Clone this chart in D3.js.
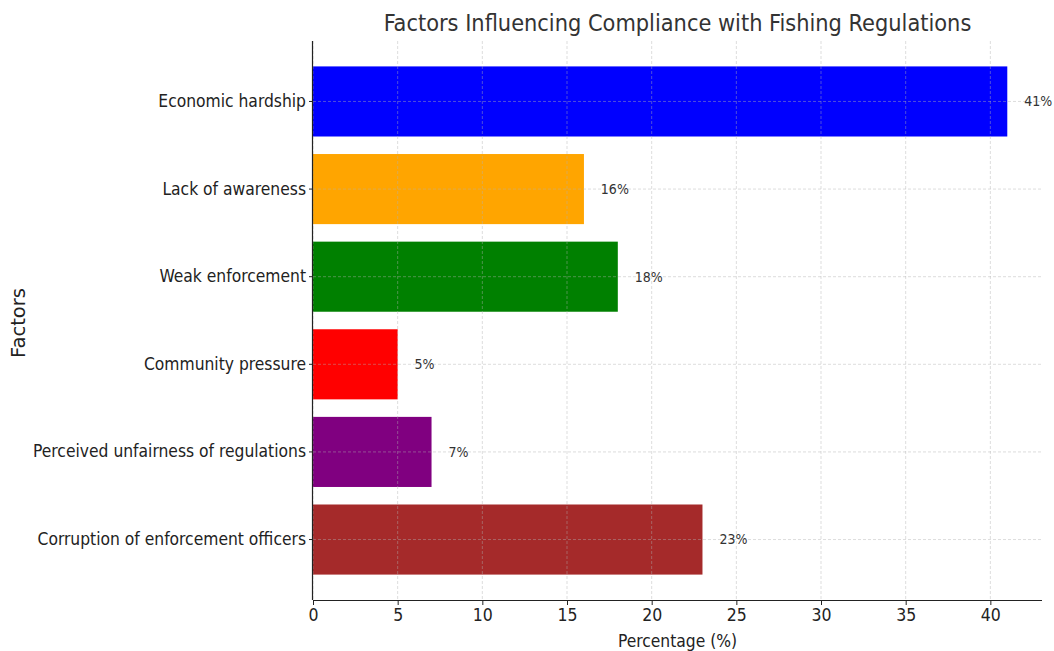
<!DOCTYPE html>
<html>
<head>
<meta charset="utf-8">
<script src="https://cdn.jsdelivr.net/npm/d3@7"></script>
<style>
  html, body { margin: 0; padding: 0; background: #fff; }
  svg { display: block; }
  text { font-family: "DejaVu Sans Condensed", "DejaVu Sans", sans-serif; }
</style>
</head>
<body>
<svg id="chart" width="1054" height="651"></svg>
<script>
// Survey results: share of respondents citing each factor
const factors = [
  "Economic hardship",
  "Lack of awareness",
  "Weak enforcement",
  "Community pressure",
  "Perceived unfairness of regulations",
  "Corruption of enforcement officers"
];
const percentages = [41, 16, 18, 5, 7, 23];
const barColors = ["#0000ff", "#ffa500", "#008000", "#ff0000", "#800080", "#a52a2a"];
const xTicks = [0, 5, 10, 15, 20, 25, 30, 35, 40];

const svg = d3.select("#chart");
const plot = { left: 313, right: 1042, top: 41, bottom: 600 };

// x domain padded 5% past the longest bar
const xMax = d3.max(percentages) * 1.05;
const x = d3.scaleLinear().domain([0, xMax]).range([plot.left, plot.right]);

// band layout: bars fill 80% of each slot, with outer padding
const y = d3.scaleBand()
  .domain(factors)
  .range([plot.top, plot.bottom])
  .paddingInner(0.2)
  .paddingOuter(0.29);

const rows = factors.map((f, i) => ({ factor: f, value: percentages[i], color: barColors[i] }));

// bars
svg.append("g").selectAll("rect")
  .data(rows)
  .join("rect")
  .attr("x", x(0))
  .attr("y", d => y(d.factor))
  .attr("width", d => x(d.value) - x(0))
  .attr("height", y.bandwidth())
  .attr("fill", d => d.color);

// dashed grid, drawn translucent over the bars
const grid = svg.append("g")
  .attr("stroke", "#b0b0b0")
  .attr("stroke-opacity", 0.55)
  .attr("stroke-width", 0.8)
  .attr("stroke-dasharray", "3,2");
grid.selectAll("line.vx")
  .data(xTicks)
  .join("line")
  .attr("class", "vx")
  .attr("x1", d => x(d)).attr("x2", d => x(d))
  .attr("y1", plot.top).attr("y2", plot.bottom);
grid.selectAll("line.hy")
  .data(factors)
  .join("line")
  .attr("class", "hy")
  .attr("x1", plot.left).attr("x2", plot.right)
  .attr("y1", d => y(d) + y.bandwidth() / 2)
  .attr("y2", d => y(d) + y.bandwidth() / 2);

// value labels just past each bar end
svg.append("g").selectAll("text")
  .data(rows)
  .join("text")
  .attr("x", d => x(d.value + 1))
  .attr("y", d => y(d.factor) + y.bandwidth() / 2)
  .attr("dy", "0.35em")
  .attr("font-size", 14)
  .attr("fill", "#333")
  .text(d => d.value + "%");

// axes
const xAxis = svg.append("g")
  .attr("transform", `translate(0,${plot.bottom})`)
  .call(d3.axisBottom(x).tickValues(xTicks).tickSize(5).tickPadding(4).tickFormat(d3.format("d")));
xAxis.select(".domain").attr("stroke", "#222").attr("stroke-width", 1.2)
  .attr("d", `M${plot.left},0.5H${plot.right}`);
xAxis.selectAll(".tick line").attr("stroke", "#222");
xAxis.selectAll(".tick text").attr("font-size", 17.5).attr("fill", "#222")
  .style("font-family", "'DejaVu Sans Condensed', 'DejaVu Sans', sans-serif");

const yAxis = svg.append("g")
  .attr("transform", `translate(${plot.left},0)`)
  .call(d3.axisLeft(y).tickSize(4).tickPadding(3));
yAxis.select(".domain").attr("stroke", "#222").attr("stroke-width", 1.2)
  .attr("d", `M-0.5,${plot.top}V${plot.bottom}`);
yAxis.selectAll(".tick line").attr("stroke", "#222");
yAxis.selectAll(".tick text").attr("font-size", 17.3).attr("fill", "#222")
  .style("font-family", "'DejaVu Sans Condensed', 'DejaVu Sans', sans-serif");

// titles
svg.append("text")
  .attr("x", (plot.left + plot.right) / 2)
  .attr("y", 31)
  .attr("text-anchor", "middle")
  .attr("font-size", 23.3)
  .attr("fill", "#333")
  .text("Factors Influencing Compliance with Fishing Regulations");

svg.append("text")
  .attr("x", (plot.left + plot.right) / 2)
  .attr("y", 647)
  .attr("text-anchor", "middle")
  .attr("font-size", 17.3)
  .attr("fill", "#222")
  .text("Percentage (%)");

svg.append("text")
  .attr("transform", "translate(25,323) rotate(-90)")
  .attr("text-anchor", "middle")
  .attr("font-size", 19.5)
  .attr("fill", "#222")
  .style("font-family", "'DejaVu Sans', sans-serif")
  .text("Factors");
</script>
</body>
</html>
